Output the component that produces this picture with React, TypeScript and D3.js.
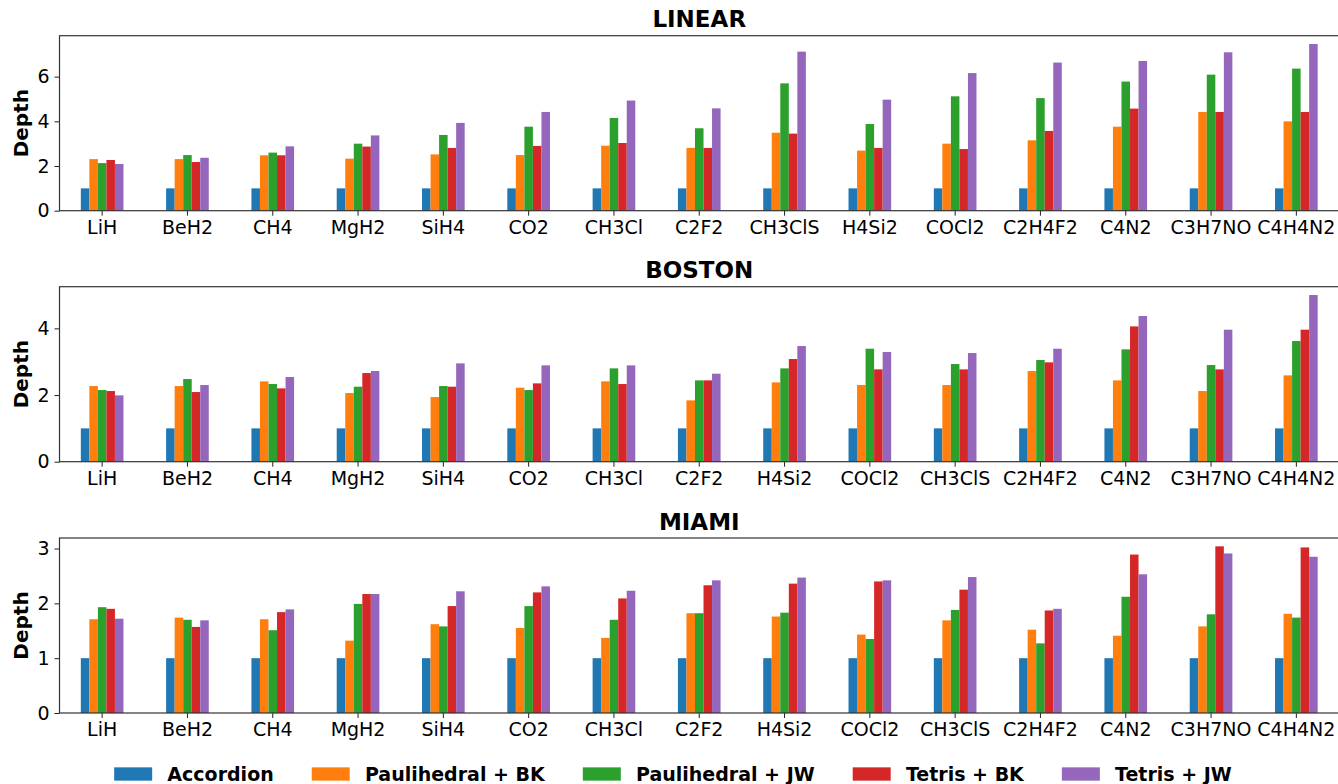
import React, { useEffect, useRef } from "react";
import * as d3 from "d3";

const linearCats = ["LiH", "BeH2", "CH4", "MgH2", "SiH4", "CO2", "CH3Cl", "C2F2", "CH3ClS", "H4Si2", "COCl2", "C2H4F2", "C4N2", "C3H7NO", "C4H4N2"];
const otherCats = ["LiH", "BeH2", "CH4", "MgH2", "SiH4", "CO2", "CH3Cl", "C2F2", "H4Si2", "COCl2", "CH3ClS", "C2H4F2", "C4N2", "C3H7NO", "C4H4N2"];
const seriesNames = ["Accordion", "Paulihedral + BK", "Paulihedral + JW", "Tetris + BK", "Tetris + JW"];
const colors = ["#1f77b4", "#ff7f0e", "#2ca02c", "#d62728", "#9467bd"];

// one row per series, one value per molecule
const linearDepth = [
  [1, 1, 1, 1, 1, 1, 1, 1, 1, 1, 1, 1, 1, 1, 1],
  [2.31, 2.31, 2.48, 2.33, 2.52, 2.49, 2.91, 2.81, 3.49, 2.69, 3.0, 3.15, 3.76, 4.42, 4.0],
  [2.13, 2.49, 2.6, 3.0, 3.39, 3.76, 4.15, 3.69, 5.7, 3.88, 5.12, 5.04, 5.78, 6.09, 6.36],
  [2.27, 2.18, 2.48, 2.87, 2.81, 2.9, 3.03, 2.81, 3.45, 2.81, 2.76, 3.57, 4.57, 4.42, 4.42],
  [2.09, 2.37, 2.88, 3.37, 3.93, 4.42, 4.93, 4.58, 7.12, 4.97, 6.16, 6.63, 6.7, 7.09, 7.46],
];
const bostonDepth = [
  [1, 1, 1, 1, 1, 1, 1, 1, 1, 1, 1, 1, 1, 1, 1],
  [2.27, 2.27, 2.41, 2.06, 1.94, 2.22, 2.41, 1.84, 2.38, 2.3, 2.3, 2.72, 2.44, 2.12, 2.59],
  [2.15, 2.48, 2.33, 2.25, 2.27, 2.15, 2.8, 2.44, 2.8, 3.39, 2.93, 3.05, 3.37, 2.9, 3.62],
  [2.12, 2.09, 2.2, 2.66, 2.25, 2.35, 2.33, 2.44, 3.08, 2.77, 2.77, 2.98, 4.06, 2.77, 3.96],
  [1.99, 2.3, 2.54, 2.72, 2.95, 2.89, 2.89, 2.64, 3.47, 3.29, 3.26, 3.39, 4.37, 3.96, 5.0],
];
const miamiDepth = [
  [1, 1, 1, 1, 1, 1, 1, 1, 1, 1, 1, 1, 1, 1, 1],
  [1.71, 1.74, 1.71, 1.32, 1.62, 1.55, 1.37, 1.82, 1.76, 1.43, 1.69, 1.52, 1.41, 1.58, 1.81],
  [1.93, 1.7, 1.51, 1.99, 1.58, 1.95, 1.7, 1.82, 1.83, 1.35, 1.88, 1.27, 2.12, 1.8, 1.74],
  [1.9, 1.57, 1.84, 2.17, 1.95, 2.2, 2.09, 2.33, 2.36, 2.4, 2.25, 1.87, 2.89, 3.04, 3.02],
  [1.72, 1.69, 1.89, 2.17, 2.22, 2.31, 2.23, 2.42, 2.47, 2.42, 2.48, 1.9, 2.53, 2.91, 2.85],
];

const panels = [
  { title: "LINEAR", cats: linearCats, values: linearDepth, ticks: [0, 2, 4, 6] },
  { title: "BOSTON", cats: otherCats, values: bostonDepth, ticks: [0, 2, 4] },
  { title: "MIAMI", cats: otherCats, values: miamiDepth, ticks: [0, 1, 2, 3] },
];

const FONT = "DejaVu Sans, sans-serif";

const Chart = () => {
  const ref = useRef<SVGSVGElement>(null);

  useEffect(() => {
    const W = 1338;
    const H = 784;
    const left = 59.5;
    const right = 1339;
    const tops = [35.7, 286.7, 538];
    const ph = 175;

    const svg = d3.select(ref.current).attr("width", W).attr("height", H);
    svg.selectAll("*").remove();

    panels.forEach((p, i) => {
      const top = tops[i];
      const bottom = top + ph;
      const ymax = d3.max(p.values.flat()) * 1.05;

      const x = d3.scaleBand().domain(p.cats).range([left, right]);
      const bw = x.bandwidth();
      const xs = d3.scaleBand().domain(seriesNames).range([-bw / 4, bw / 4]);
      const y = d3.scaleLinear().domain([0, ymax]).range([bottom, top]);

      const g = svg.append("g");

      // bars
      p.values.forEach((row, si) => {
        g.append("g")
          .attr("fill", colors[si])
          .selectAll("rect")
          .data(row)
          .join("rect")
          .attr("x", (d, ci) => x(p.cats[ci]) + bw / 2 + xs(seriesNames[si]))
          .attr("width", xs.bandwidth())
          .attr("y", (d) => y(d))
          .attr("height", (d) => y(0) - y(d));
      });

      // axes
      const ya = g.append("g")
        .attr("transform", `translate(${left},0)`)
        .call(d3.axisLeft(y).tickValues(p.ticks).tickFormat(d3.format("d")).tickSize(5).tickPadding(5));
      const xa = g.append("g")
        .attr("transform", `translate(0,${bottom})`)
        .call(d3.axisBottom(x).tickSize(5).tickPadding(5));
      [ya, xa].forEach((a) => {
        a.select(".domain").remove();
        a.selectAll("line").attr("stroke", "#222").attr("stroke-width", 1);
        a.selectAll("text").attr("fill", "#000").style("font-size", "19px").style("font-family", FONT);
      });

      // frame
      g.append("rect")
        .attr("x", left)
        .attr("y", top)
        .attr("width", right - left)
        .attr("height", ph)
        .attr("fill", "none")
        .attr("stroke", "#333")
        .attr("stroke-width", 1.2);

      g.append("text")
        .attr("x", (left + right) / 2)
        .attr("y", top - 8.5)
        .attr("text-anchor", "middle")
        .style("font-family", FONT)
        .style("font-size", "23px")
        .style("font-weight", "bold")
        .text(p.title);

      g.append("text")
        .attr("transform", `translate(28,${(top + bottom) / 2}) rotate(-90)`)
        .attr("text-anchor", "middle")
        .style("font-family", FONT)
        .style("font-size", "20px")
        .style("font-weight", "bold")
        .text("Depth");
    });

    // legend
    const fs = 19;
    const leg = svg.append("g");
    const items = seriesNames.map((name, i) => {
      const it = leg.append("g");
      it.append("rect")
        .attr("width", 2 * fs)
        .attr("height", 0.7 * fs)
        .attr("y", -0.35 * fs)
        .attr("fill", colors[i]);
      const t = it.append("text")
        .attr("x", 2.8 * fs)
        .attr("dy", "0.35em")
        .style("font-family", FONT)
        .style("font-size", `${fs}px`)
        .style("font-weight", "bold")
        .text(name);
      const w = 2.8 * fs + (t.node() as SVGTextElement).getComputedTextLength();
      return { it, w };
    });
    const total = d3.sum(items, (d) => d.w) + 2 * fs * (items.length - 1);
    let cx = 673 - total / 2;
    items.forEach(({ it, w }) => {
      it.attr("transform", `translate(${cx},774)`);
      cx += w + 2 * fs;
    });
  }, []);

  return <svg ref={ref} style={{ display: "block" }}></svg>;
};

export default function App() {
  return (
    <div style={{ position: "fixed", left: 0, top: 0, width: 1338, height: 784, overflow: "hidden", background: "#fff" }}>
      <Chart />
    </div>
  );
}
